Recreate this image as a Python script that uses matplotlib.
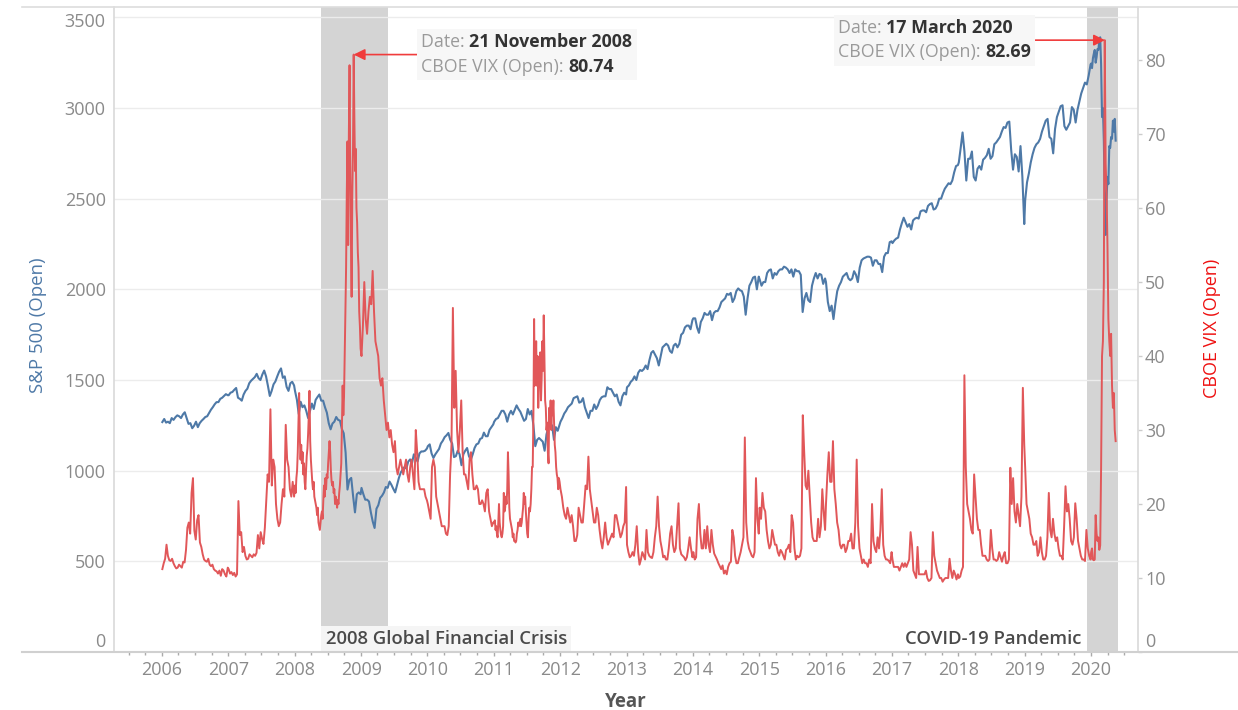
import matplotlib
matplotlib.use("Agg")
import matplotlib.pyplot as plt
import matplotlib.dates as mdates
import matplotlib.transforms as mtransforms
from matplotlib.lines import Line2D
from matplotlib.offsetbox import TextArea, HPacker, VPacker, AnnotationBbox
import numpy as np
import pandas as pd

plt.rcParams['font.family'] = ['Open Sans', 'DejaVu Sans']

# one row per year (S&P: ~3 points a month, VIX: ~4 a month,
# 8 a month in the busy years 2008 and 2011; 2020 runs Jan 1 - May 15 at 5-day steps)
years = list(range(2006, 2021))

spx_open = [
    [1268, 1285, 1265, 1270, 1262, 1290, 1280, 1295, 1305, 1300, 1290, 1310, 1322, 1290, 1258, 1262, 1234, 1248,
     1270, 1240, 1262, 1275, 1285, 1296, 1300, 1318, 1336, 1350, 1366, 1378, 1378, 1396, 1402, 1412, 1422, 1416],
    [1416, 1430, 1434, 1446, 1456, 1402, 1396, 1386, 1420, 1440, 1452, 1482, 1496, 1506, 1516, 1534, 1510, 1500,
     1530, 1552, 1520, 1468, 1412, 1440, 1476, 1492, 1520, 1546, 1564, 1512, 1520, 1462, 1440, 1482, 1490, 1470],
    [1440, 1392, 1312, 1380, 1350, 1360, 1330, 1290, 1330, 1370, 1340, 1390, 1406, 1420, 1386, 1386, 1350, 1320,
     1262, 1228, 1260, 1270, 1296, 1280, 1276, 1230, 1206, 1100, 896, 950, 960, 860, 770, 870, 880, 870],
    [905, 870, 840, 840, 830, 770, 720, 684, 790, 810, 850, 862, 880, 910, 905, 940, 922, 900,
     880, 920, 960, 990, 1006, 1020, 1012, 1050, 1062, 1040, 1090, 1072, 1050, 1095, 1106, 1106, 1110, 1122],
    [1135, 1145, 1095, 1070, 1090, 1105, 1120, 1150, 1165, 1185, 1195, 1208, 1170, 1150, 1075, 1080, 1110, 1090,
     1030, 1090, 1110, 1125, 1080, 1060, 1090, 1125, 1145, 1150, 1175, 1180, 1210, 1190, 1190, 1225, 1240, 1255],
    [1270, 1285, 1290, 1310, 1330, 1330, 1310, 1270, 1310, 1330, 1310, 1335, 1360, 1340, 1325, 1300, 1275, 1285,
     1340, 1310, 1330, 1250, 1135, 1170, 1180, 1170, 1160, 1110, 1200, 1240, 1250, 1250, 1170, 1240, 1220, 1255],
    [1270, 1290, 1315, 1330, 1350, 1360, 1370, 1400, 1405, 1410, 1375, 1380, 1400, 1350, 1320, 1290, 1330, 1330,
     1365, 1340, 1360, 1390, 1405, 1410, 1410, 1460, 1450, 1450, 1430, 1410, 1420, 1380, 1360, 1410, 1430, 1420],
    [1460, 1470, 1490, 1500, 1520, 1500, 1540, 1555, 1550, 1560, 1580, 1560, 1610, 1650, 1660, 1640, 1620, 1580,
     1630, 1680, 1690, 1700, 1690, 1660, 1650, 1690, 1700, 1680, 1700, 1750, 1760, 1790, 1800, 1800, 1780, 1830],
    [1840, 1840, 1790, 1760, 1820, 1840, 1870, 1860, 1860, 1880, 1830, 1870, 1880, 1880, 1900, 1930, 1940, 1950,
     1975, 1970, 1980, 1930, 1950, 1990, 2005, 1995, 1990, 1960, 1860, 1950, 2020, 2040, 2065, 2070, 2000, 2070],
    [2055, 2020, 2040, 2040, 2090, 2105, 2110, 2060, 2090, 2080, 2100, 2110, 2110, 2125, 2120, 2110, 2090, 2110,
     2070, 2110, 2100, 2100, 2080, 1875, 1950, 1980, 1940, 1930, 2020, 2060, 2090, 2060, 2085, 2080, 2030, 2060],
    [2040, 1930, 1880, 1910, 1836, 1920, 1990, 2020, 2040, 2070, 2080, 2090, 2060, 2050, 2060, 2100, 2080, 2040,
     2120, 2160, 2170, 2175, 2180, 2180, 2175, 2130, 2160, 2160, 2140, 2140, 2095, 2180, 2200, 2200, 2260, 2265],
    [2255, 2270, 2280, 2285, 2330, 2365, 2395, 2370, 2345, 2360, 2330, 2380, 2390, 2395, 2390, 2430, 2435, 2435,
     2425, 2460, 2470, 2475, 2440, 2445, 2465, 2500, 2500, 2530, 2555, 2570, 2585, 2580, 2600, 2645, 2680, 2685],
    [2700, 2780, 2865, 2760, 2600, 2720, 2720, 2760, 2620, 2600, 2665, 2680, 2660, 2715, 2725, 2740, 2775, 2720,
     2735, 2800, 2810, 2825, 2840, 2870, 2895, 2890, 2920, 2925, 2770, 2660, 2745, 2730, 2650, 2790, 2620, 2360],
    [2490, 2590, 2640, 2700, 2745, 2780, 2800, 2810, 2830, 2870, 2900, 2930, 2940, 2840, 2830, 2750, 2885, 2950,
     2980, 3010, 3015, 2900, 2880, 2900, 2920, 3005, 2990, 2920, 2990, 3035, 3080, 3110, 3140, 3130, 3180, 3240],
    [3245, 3220, 3275, 3300, 3320, 3250, 3280, 3325, 3320, 3375, 3390, 3240, 2950, 3000, 2820, 2510, 2300, 2500,
     2620, 2580, 2790, 2780, 2840, 2830, 2930, 2870, 2940, 2820],
]

vix_open = [
    [11.2, 12.0, 12.6, 14.5, 13.0, 12.4, 12.3, 12.6, 12.0, 11.6, 11.3, 11.4, 11.8, 11.6, 11.4, 12.2,
     12.1, 13.8, 16.8, 17.5, 16.0, 21.5, 23.5, 16.4, 15.2, 17.8, 18.5, 14.8, 14.2, 13.2, 12.5, 12.3,
     12.2, 12.6, 11.8, 11.6, 11.8, 11.2, 11.0, 10.9, 10.6, 11.0, 10.3, 11.2, 11.0, 10.5, 10.2, 11.4],
    [11.2, 10.6, 10.8, 10.4, 10.7, 10.2, 10.5, 20.4, 15.8, 16.2, 13.5, 14.2, 13.0, 12.5, 12.6, 13.2,
     13.0, 12.8, 13.2, 13.0, 13.4, 15.8, 14.0, 16.2, 15.3, 14.6, 16.8, 20.5, 24.0, 23.0, 32.8, 22.5,
     26.0, 25.0, 20.0, 18.0, 17.0, 17.5, 20.0, 22.0, 21.0, 30.7, 26.0, 25.0, 22.0, 21.0, 23.0, 21.0],
    [22.5, 21.5, 23.5, 24.5, 27.0, 31.0, 35.0, 29.0, 26.0, 28.0, 25.5, 27.0, 24.0, 25.5, 23.0, 22.0,
     24.5, 26.5, 27.5, 29.5, 32.0, 35.3, 28.5, 26.0, 24.5, 23.0, 22.0, 23.0, 21.0, 20.5, 20.0, 19.5,
     18.5, 19.5, 17.5, 17.0, 16.5, 17.5, 18.5, 19.0, 18.0, 20.5, 22.5, 21.0, 23.5, 22.0, 24.0, 23.5,
     25.5, 27.0, 28.5, 27.0, 24.5, 23.0, 22.5, 23.0, 21.5, 22.0, 20.0, 21.0, 20.5, 19.5, 20.5, 20.0,
     21.5, 22.5, 24.0, 25.5, 31.0, 36.0, 32.0, 34.5, 40.0, 46.0, 52.0, 62.0, 69.0, 55.0, 70.0, 79.3,
     66.0, 56.0, 48.0, 62.0, 68.0, 80.74, 72.0, 65.0, 68.0, 60.0, 58.0, 54.0, 52.0, 46.0, 44.0, 41.0],
    [40.0, 44.0, 50.0, 45.0, 43.0, 46.0, 48.0, 47.0, 51.5, 46.0, 42.0, 41.0, 40.0, 37.0, 36.0, 37.0,
     34.0, 32.0, 30.0, 31.0, 29.0, 30.0, 28.0, 27.0, 28.5, 25.0, 24.0, 25.0, 26.0, 25.0, 24.0, 25.0,
     26.0, 24.0, 23.0, 25.0, 26.0, 24.0, 22.0, 30.0, 27.0, 23.0, 22.0, 22.0, 22.0, 22.0, 21.0, 20.5],
    [20.0, 19.0, 18.0, 25.0, 26.0, 25.0, 21.0, 20.0, 19.0, 18.0, 17.0, 17.0, 17.0, 16.0, 15.8, 17.0,
     24.0, 28.0, 46.5, 33.0, 38.0, 30.0, 27.0, 30.0, 34.0, 27.0, 24.0, 24.0, 23.0, 22.0, 26.0, 27.0,
     24.0, 22.0, 22.0, 22.5, 22.0, 20.0, 20.0, 20.5, 20.0, 19.0, 21.5, 22.0, 19.0, 18.0, 17.0, 17.5],
    [17.5, 17.8, 16.5, 17.0, 16.0, 15.5, 17.5, 20.0, 17.5, 16.5, 15.8, 15.5, 16.0, 17.0, 21.5, 19.0,
     19.5, 21.0, 20.0, 22.0, 27.0, 24.0, 19.5, 18.0, 17.5, 17.0, 16.5, 15.5, 16.0, 15.0, 15.0, 14.8,
     15.0, 16.0, 16.5, 17.5, 17.0, 17.5, 18.0, 17.0, 17.5, 18.5, 19.5, 21.5, 20.0, 21.0, 19.0, 17.5,
     16.0, 15.5, 18.0, 19.5, 19.0, 20.0, 22.0, 25.0, 25.0, 32.0, 45.0, 36.0, 38.0, 42.0, 36.0, 40.0,
     33.0, 36.0, 38.0, 40.5, 34.0, 37.0, 42.0, 38.0, 45.5, 40.0, 34.0, 33.0, 30.0, 31.0, 27.0, 25.5,
     33.0, 31.0, 34.0, 30.0, 33.0, 32.0, 34.0, 31.0, 28.0, 27.0, 25.0, 24.0, 23.5, 22.0, 23.5, 23.0],
    [22.0, 21.0, 19.5, 18.5, 18.0, 19.5, 18.5, 17.5, 18.5, 17.0, 15.0, 15.0, 15.8, 19.5, 18.5, 17.5,
     17.5, 20.0, 22.5, 22.0, 26.4, 22.0, 20.5, 19.0, 17.5, 17.5, 19.5, 18.5, 16.5, 15.0, 14.0, 15.5,
     17.5, 15.5, 14.5, 15.0, 15.5, 16.0, 15.5, 18.5, 18.5, 17.5, 16.5, 15.5, 16.0, 17.0, 17.5, 22.3],
    [14.5, 13.5, 12.8, 13.0, 13.5, 13.0, 14.5, 17.0, 13.5, 11.8, 12.5, 13.5, 13.0, 12.5, 16.5, 13.5,
     13.0, 12.8, 12.7, 13.5, 15.5, 17.0, 21.0, 17.0, 15.0, 14.0, 12.8, 13.0, 12.5, 12.5, 14.0, 16.0,
     17.0, 14.5, 13.5, 14.0, 17.0, 20.1, 14.0, 13.2, 13.0, 12.8, 12.4, 12.8, 14.0, 15.5, 14.0, 12.8],
    [13.5, 12.5, 12.8, 18.0, 20.0, 16.0, 14.0, 14.0, 16.5, 14.0, 17.0, 14.5, 13.5, 16.5, 14.5, 13.3,
     12.9, 12.5, 12.0, 11.6, 11.2, 11.7, 10.6, 11.0, 10.5, 11.5, 12.0, 12.2, 16.5, 15.5, 13.0, 12.0,
     12.0, 12.8, 13.5, 14.5, 15.5, 29.0, 17.5, 15.0, 14.0, 13.5, 13.0, 12.8, 13.5, 23.5, 18.0, 16.0],
    [19.5, 18.0, 21.5, 19.5, 19.0, 16.5, 15.0, 14.0, 14.5, 16.5, 15.5, 14.5, 14.5, 13.5, 13.0, 13.8,
     13.5, 13.0, 12.5, 13.8, 14.0, 14.5, 13.5, 18.5, 17.5, 14.0, 12.5, 13.0, 12.8, 13.0, 14.0, 32.0,
     27.0, 22.5, 22.0, 24.5, 21.0, 17.5, 15.5, 15.0, 15.0, 15.0, 18.0, 15.5, 17.0, 22.0, 19.0, 16.5],
    [20.0, 24.0, 27.0, 23.0, 23.0, 28.5, 22.0, 20.0, 17.5, 16.5, 14.5, 14.0, 14.5, 14.5, 13.5, 14.0,
     15.0, 15.0, 16.0, 14.0, 14.0, 17.5, 26.0, 17.0, 14.0, 13.0, 12.0, 12.5, 12.0, 12.0, 11.5, 12.5,
     12.0, 20.0, 15.0, 14.0, 13.5, 15.5, 14.0, 16.5, 22.0, 14.5, 13.0, 12.5, 12.5, 12.3, 12.0, 13.5],
    [12.5, 11.5, 11.5, 11.5, 11.5, 11.0, 11.5, 12.0, 11.5, 12.0, 11.5, 12.0, 12.5, 16.2, 14.5, 11.0,
     10.5, 10.0, 14.2, 10.5, 10.5, 10.5, 10.5, 10.5, 11.0, 10.0, 9.6, 9.7, 10.0, 16.2, 13.0, 12.0,
     11.0, 10.5, 10.0, 10.0, 9.5, 9.8, 10.0, 10.0, 10.0, 12.6, 11.0, 10.0, 11.0, 10.5, 9.8, 10.5],
    [10.0, 10.2, 11.0, 11.5, 37.4, 25.0, 20.0, 19.0, 18.0, 16.5, 16.0, 24.0, 21.0, 18.0, 16.5, 16.5,
     14.5, 13.0, 13.0, 13.0, 12.5, 12.3, 12.5, 16.5, 14.0, 12.5, 12.5, 12.3, 12.5, 13.5, 12.8, 12.2,
     13.0, 13.5, 12.0, 12.0, 12.5, 24.9, 20.0, 23.5, 19.0, 17.5, 20.0, 18.5, 17.0, 21.0, 35.7, 28.0],
    [25.0, 20.0, 19.0, 18.0, 16.0, 15.5, 14.5, 14.5, 15.0, 13.0, 13.5, 15.5, 13.5, 12.5, 12.5, 13.0,
     15.5, 21.5, 16.5, 15.5, 18.0, 16.0, 15.0, 15.5, 14.0, 13.0, 13.0, 12.5, 17.0, 22.4, 19.0, 20.0,
     18.0, 15.0, 14.5, 15.5, 20.1, 18.0, 15.0, 14.0, 13.0, 12.5, 12.5, 12.3, 16.5, 14.0, 13.0, 12.5],
    [13.5, 14.0, 12.5, 12.4, 12.5, 18.5, 16.0, 15.0, 15.5, 13.8, 14.4, 25.0, 40.0, 42.0, 50.0, 82.69,
     66.0, 62.0, 55.0, 45.0, 42.0, 40.0, 43.0, 36.0, 33.0, 35.0, 30.0, 28.5],
]

crisis_start = ["2008-05-27", "2019-12-07"]
crisis_end = ["2009-05-27", "2020-05-30"]
crisis_names = ["2008 Global Financial Crisis", "COVID-19 Pandemic"]

peak_dates = ["2008-11-21", "2020-03-17"]
peak_labels = ["21 November 2008", "17 March 2020"]
peak_values = [80.74, 82.69]


def year_dates(y, n):
    if y == 2020:
        return pd.date_range("2020-01-01", "2020-05-15", periods=n)
    return pd.date_range(f"{y}-01-03", f"{y}-12-29", periods=n)


spx_dates = pd.DatetimeIndex(np.concatenate([year_dates(y, len(v)) for y, v in zip(years, spx_open)]))
vix_dates = pd.DatetimeIndex(np.concatenate([year_dates(y, len(v)) for y, v in zip(years, vix_open)]))
spx = np.concatenate(spx_open)
vix = np.concatenate(vix_open)

BLUE = '#4e79a7'
RED = '#e15759'
TICK = '#8a8a8a'

W, H = 1238, 710
fig = plt.figure(figsize=(W / 100, H / 100), dpi=100)
ax = fig.add_axes([114 / W, 1 - 652 / H, 1024 / W, 645 / H])
ax2 = ax.twinx()

for s0, s1 in zip(crisis_start, crisis_end):
    ax.axvspan(pd.Timestamp(s0), pd.Timestamp(s1), color='#d4d4d4', lw=0, zorder=0)
for v in range(500, 3501, 500):
    ax.axhline(v, color='#ececec', lw=1, zorder=0.5)

ax.plot(spx_dates, spx, color=BLUE, lw=1.5, zorder=2)
ax2.plot(vix_dates, vix, color=RED, lw=1.4, zorder=2)

ax.set_xlim(pd.Timestamp("2005-04-12"), pd.Timestamp("2020-09-15"))
ax.set_ylim(0, 3557)
ax2.set_ylim(0, 87.17)

ax.xaxis.set_major_locator(mdates.YearLocator())
ax.xaxis.set_major_formatter(mdates.DateFormatter('%Y'))
ax.xaxis.set_minor_locator(mdates.MonthLocator(bymonth=[1, 4, 7, 10]))
ax.tick_params(axis='x', which='major', length=3, width=1, color='#aaaaaa',
               labelsize=13, labelcolor=TICK, pad=3.5)
ax.tick_params(axis='x', which='minor', length=2.2, width=1, color='#aaaaaa')

ax.set_yticks(range(0, 3501, 500))
ax.tick_params(axis='y', length=0, labelsize=13, labelcolor=TICK, pad=6)
ax2.set_yticks(range(0, 81, 10))
ax2.tick_params(axis='y', length=3, width=1, color='#cccccc', labelsize=13, labelcolor=TICK, pad=2)

for a in (ax, ax2):
    for side in ('top', 'bottom', 'left', 'right'):
        a.spines[side].set_visible(False)
ax.spines['left'].set_visible(True)
ax.spines['left'].set_color('#d9d9d9')
ax.spines['left'].set_linewidth(1.2)
ax2.spines['right'].set_visible(True)
ax2.spines['right'].set_color('#d9d9d9')
ax2.spines['right'].set_linewidth(1.2)

# tableau nudges the end labels inside the axis
up = mtransforms.ScaledTranslation(0, 0.12, fig.dpi_scale_trans)
down = mtransforms.ScaledTranslation(0, -0.03, fig.dpi_scale_trans)
lbls = ax.get_yticklabels()
lbls[0].set_transform(lbls[0].get_transform() + up)
lbls[-1].set_transform(lbls[-1].get_transform() + down)
lbls2 = ax2.get_yticklabels()
lbls2[0].set_transform(lbls2[0].get_transform() + up)

# frame lines across the whole view
fig.add_artist(Line2D([22 / W, 1], [1 - 652 / H] * 2, transform=fig.transFigure, color='#d0d0d0', lw=1.5))
fig.add_artist(Line2D([22 / W, 1], [1 - 7 / H] * 2, transform=fig.transFigure, color='#dddddd', lw=1.2))

fig.text(626 / W, 1 - 702 / H, 'Year', ha='center', va='center', fontsize=13.5,
         fontweight='bold', color='#555555')
fig.text(38 / W, 1 - 325 / H, 'S&P 500 (Open)', rotation=90, ha='center', va='center',
         fontsize=13.4, color=BLUE)
fig.text(1212 / W, 1 - 328 / H, 'CBOE VIX (Open)', rotation=90, ha='center', va='center',
         fontsize=13, color='#ee1111')

# period captions
ax.annotate(crisis_names[0], xy=(pd.Timestamp(crisis_start[0]), 0), xycoords=('data', 'axes fraction'),
            xytext=(3, 5.5), textcoords='offset points', ha='left', va='baseline',
            fontsize=13.3, fontweight='semibold', color='#4a4a4a', zorder=3,
            bbox=dict(boxstyle='square,pad=0.25', fc='#f5f5f5', ec='none'))
ax.annotate(crisis_names[1], xy=(pd.Timestamp(crisis_start[1]), 0), xycoords=('data', 'axes fraction'),
            xytext=(-4, 5.5), textcoords='offset points', ha='right', va='baseline',
            fontsize=13.3, fontweight='semibold', color='#4a4a4a', zorder=3)


def note(date_txt, value):
    grey = dict(color='#9a9a9a', fontsize=12.8)
    dark = dict(color='#333333', fontsize=12.8, fontweight='bold')
    row1 = HPacker(children=[TextArea("Date: ", textprops=grey), TextArea(date_txt, textprops=dark)],
                   align='baseline', pad=0, sep=0)
    row2 = HPacker(children=[TextArea("CBOE VIX (Open): ", textprops=grey),
                             TextArea(f"{value:.2f}", textprops=dark)],
                   align='baseline', pad=0, sep=0)
    return VPacker(children=[row1, row2], align='left', pad=0, sep=4.6)


offsets = [(124.6, 0), (-122.6, 0)]
for d, lab, v, off in zip(peak_dates, peak_labels, peak_values, offsets):
    ab = AnnotationBbox(note(lab, v), (pd.Timestamp(d), v), xycoords='data',
                        xybox=off, boxcoords='offset points', box_alignment=(0.5, 0.5),
                        pad=1.0, bboxprops=dict(boxstyle='square', fc='#f7f7f7', ec='none'),
                        arrowprops=dict(arrowstyle='-|>', color='#f03c3c', lw=1.2,
                                        mutation_scale=12, shrinkA=0, shrinkB=0),
                        zorder=5)
    ax2.add_artist(ab)

fig.savefig('out.png', dpi=100)
